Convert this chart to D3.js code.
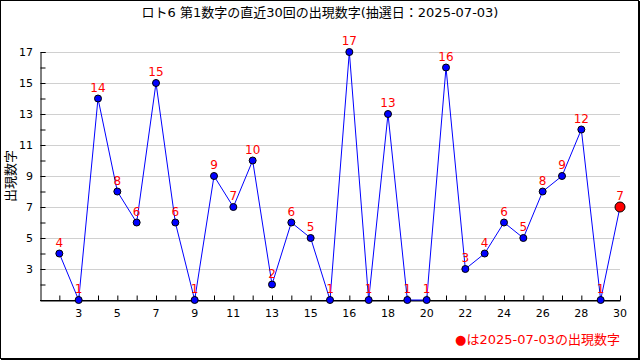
<!DOCTYPE html>
<html>
<head>
<meta charset="utf-8">
<script src="https://cdn.jsdelivr.net/npm/d3@7"></script>
<style>
  body { margin: 0; background: #fff; }
  svg text { font-family: "DejaVu Sans", "Noto Sans CJK JP", sans-serif; }
</style>
</head>
<body>
<div id="chart"></div>
<script>
const title = "ロト6 第1数字の直近30回の出現数字(抽選日：2025-07-03)";
const yTitle = "出現数字";
const legendText = "●は2025-07-03の出現数字";
// draw index 1..30 (oldest to latest)
const draws = d3.range(1, 31);
const values = [4, 1, 14, 8, 6, 15, 6, 1, 9, 7, 10, 2, 6, 5, 1, 17, 1, 13, 1, 1, 16, 3, 4, 6, 5, 8, 9, 12, 1, 7];
// x labels as printed on the original, placed at every second draw
const xTickPos = [2, 4, 6, 8, 10, 12, 14, 16, 18, 20, 22, 24, 26, 28, 30];
const xTickLabels = ["3", "5", "7", "9", "11", "13", "15", "16", "18", "20", "22", "24", "26", "28", "30"];
const yTicks = [3, 5, 7, 9, 11, 13, 15, 17];

const width = 640, height = 360;
const svg = d3.select("#chart").append("svg")
  .attr("width", width)
  .attr("height", height);

// frame
svg.append("rect").attr("x", 0.5).attr("y", 0.5).attr("width", width - 2).attr("height", height - 2)
  .attr("fill", "#fff").attr("stroke", "#000");
svg.append("line").attr("x1", width - 1).attr("x2", width - 1).attr("y1", 1).attr("y2", height).attr("stroke", "#000").attr("stroke-width", 2);
svg.append("line").attr("x1", 1).attr("x2", width).attr("y1", height - 1).attr("y2", height - 1).attr("stroke", "#000").attr("stroke-width", 2);

const x = d3.scaleLinear().domain([0, 30]).range([40, 620]);
const y = d3.scaleLinear().domain([1, 17]).range([300, 52]);

svg.append("text")
  .attr("x", 320).attr("y", 17)
  .attr("text-anchor", "middle")
  .attr("font-size", 13)
  .text(title);

// grid
svg.append("g")
  .selectAll("line")
  .data(yTicks)
  .enter().append("line")
    .attr("x1", x(0)).attr("x2", x(30))
    .attr("y1", d => Math.round(y(d)) + 0.5).attr("y2", d => Math.round(y(d)) + 0.5)
    .attr("stroke", "#d0d0d0");

// y axis
const yAxis = svg.append("g").attr("transform", `translate(${x(0) + 0.5},0)`)
  .call(d3.axisRight(y).tickValues(d3.range(1, 18)).tickSize(5).tickFormat(""));
yAxis.selectAll("path.domain").attr("stroke", "#000");
svg.append("g")
  .selectAll("text")
  .data(yTicks)
  .enter().append("text")
    .attr("x", 33).attr("y", d => y(d) + 4)
    .attr("text-anchor", "end")
    .attr("font-size", 11)
    .text(d => d);

// x axis
const xAxis = svg.append("g").attr("transform", `translate(0,${y(1) + 0.5})`)
  .call(d3.axisTop(x).tickValues(draws).tickSize(5).tickFormat("").tickSizeOuter(0));
svg.append("line").attr("x1", x(0)).attr("x2", x(30)).attr("y1", y(1) + 0.5).attr("y2", y(1) + 0.5).attr("stroke", "#000");
svg.append("g")
  .selectAll("text")
  .data(xTickPos)
  .enter().append("text")
    .attr("x", d => x(d)).attr("y", 317)
    .attr("text-anchor", "middle")
    .attr("font-size", 11)
    .text((d, i) => xTickLabels[i]);

svg.append("text")
  .attr("transform", "translate(15,176) rotate(-90)")
  .attr("text-anchor", "middle")
  .attr("font-size", 13)
  .text(yTitle);

// line
const line = d3.line().x((d, i) => x(draws[i])).y(d => y(d));
svg.append("path")
  .datum(values)
  .attr("fill", "none")
  .attr("stroke", "#0000ff")
  .attr("stroke-width", 1)
  .attr("d", line);

// value labels
svg.append("g")
  .selectAll("text")
  .data(values)
  .enter().append("text")
    .attr("x", (d, i) => x(draws[i]))
    .attr("y", d => y(d) - 7)
    .attr("text-anchor", "middle")
    .attr("font-size", 12)
    .attr("fill", "#ff0000")
    .text(d => d);

// points
svg.append("g")
  .selectAll("circle")
  .data(values)
  .enter().append("circle")
    .attr("cx", (d, i) => x(draws[i]))
    .attr("cy", d => y(d))
    .attr("r", (d, i) => i === values.length - 1 ? 5 : 3.5)
    .attr("fill", (d, i) => i === values.length - 1 ? "#ff0000" : "#0000ff")
    .attr("stroke", "#000")
    .attr("stroke-width", 1);

svg.append("text")
  .attr("x", 620).attr("y", 344)
  .attr("text-anchor", "end")
  .attr("font-size", 13)
  .attr("fill", "#ff0000")
  .text(legendText);
</script>
</body>
</html>
